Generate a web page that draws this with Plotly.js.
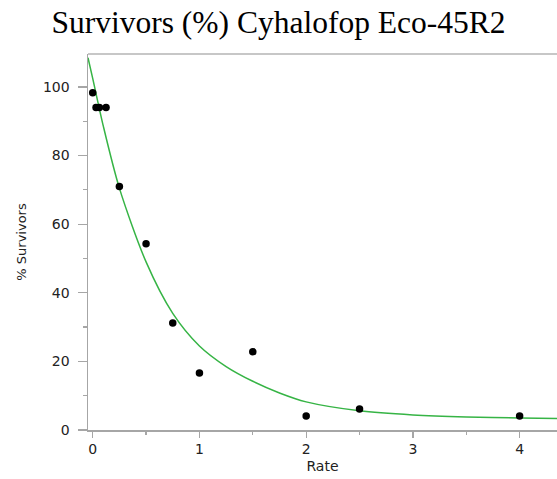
<!DOCTYPE html>
<html>
<head>
<meta charset="utf-8">
<script src="https://cdn.plot.ly/plotly-3.0.1.min.js"></script>
<style>html,body{margin:0;padding:0;background:#fff;}#chart{width:557px;height:479px;}</style>
</head>
<body>
<div id="chart"></div>
<script>
// Observed survivors
const rate = [0, 0.03125, 0.0625, 0.125, 0.25, 0.5, 0.75, 1, 1.5, 2, 2.5, 4];
const survivors = [98.3, 94, 94, 94, 71, 54.3, 31.2, 16.6, 22.8, 4.1, 6.1, 4.1];

// Fitted curve
const fitRate = [-0.044, 0, 0.1, 0.25, 0.5, 0.75, 1, 1.25, 1.5, 1.75, 2, 2.5, 3, 3.5, 4, 4.4];
const fitSurv = [108.5, 102.5, 88.5, 70.5, 49, 34, 24.5, 18.5, 14.2, 10.8, 8.2, 5.6, 4.4, 3.8, 3.5, 3.3];

const xTicks = [0, 1, 2, 3, 4];
const yTicks = [0, 20, 40, 60, 80, 100];

const axisGray = '#a6a6a6';
const sans = 'DejaVu Sans, Verdana, sans-serif';
const tickFont = {family: sans, size: 14, color: '#222'};

const traces = [
  {x: fitRate, y: fitSurv, type: 'scatter', mode: 'lines',
   line: {color: '#36b445', width: 1.5, shape: 'spline', smoothing: 0.8},
   hoverinfo: 'skip'},
  {x: rate, y: survivors, type: 'scatter', mode: 'markers',
   marker: {color: '#000', size: 7.5}}
];

const layout = {
  width: 557, height: 479,
  margin: {l: 88, r: 0, t: 54, b: 49},
  paper_bgcolor: '#fff', plot_bgcolor: '#fff',
  showlegend: false,
  title: {text: 'Survivors (%) Cyhalofop Eco-45R2',
          font: {family: 'Liberation Serif, Times New Roman, serif', size: 31.5, color: '#000'},
          x: 0.5, xanchor: 'center', yref: 'container', y: 0.978, yanchor: 'top'},
  shapes: [
    {type: 'line', xref: 'paper', yref: 'paper', x0: 0, x1: 1, y0: 1, y1: 1,
     line: {color: '#b4b4b4', width: 1.5}}
  ],
  xaxis: {
    range: [-0.044, 4.35], tickvals: xTicks, ticktext: xTicks.map(String),
    showgrid: false, zeroline: false,
    showline: true, linecolor: axisGray, linewidth: 1.5,
    ticks: 'outside', ticklen: 6, tickcolor: axisGray, tickwidth: 1.2,
    minor: {dtick: 0.5, tick0: 0, ticks: 'outside', ticklen: 3, tickcolor: axisGray, showgrid: false},
    tickfont: tickFont,
    title: {text: 'Rate', font: {family: sans, size: 14, color: '#222'}, standoff: 5}
  },
  yaxis: {
    range: [0, 109.6], tickvals: yTicks, ticktext: yTicks.map(String),
    showgrid: false, zeroline: false,
    showline: true, linecolor: axisGray, linewidth: 1.5,
    ticks: 'outside', ticklen: 9, tickcolor: axisGray, tickwidth: 1.2,
    minor: {dtick: 10, tick0: 0, ticks: 'outside', ticklen: 4, tickcolor: axisGray, showgrid: false},
    tickfont: tickFont, ticklabelstandoff: 5,
    title: {text: '% Survivors', font: {family: sans, size: 13, color: '#222'}, standoff: 13}
  }
};

Plotly.newPlot('chart', traces, layout, {staticPlot: true, displayModeBar: false});
</script>
</body>
</html>
